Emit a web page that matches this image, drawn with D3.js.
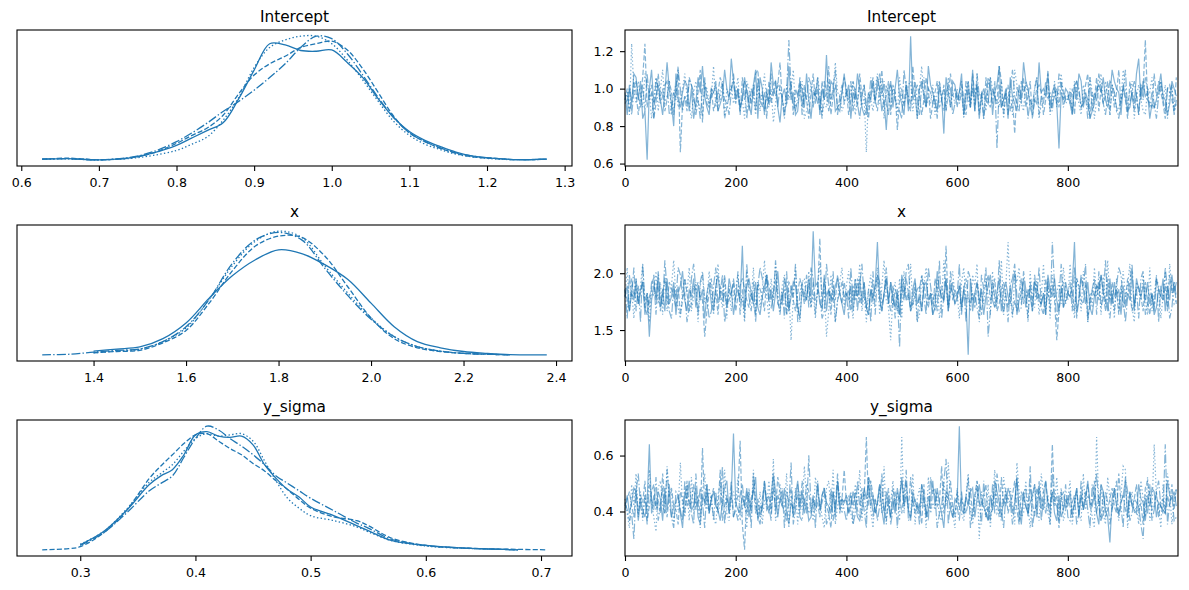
<!DOCTYPE html>
<html><head><meta charset="utf-8">
<script src="https://cdn.jsdelivr.net/npm/d3@7/dist/d3.min.js"></script>
<style>
body{margin:0;background:#fff}
text{font-family:"DejaVu Sans",sans-serif;fill:#000}
</style></head>
<body><svg id="chart" width="1189" height="590"></svg>
<script>
// ---------------- DATA ----------------
const paramNames = ["Intercept", "x", "y_sigma"];

// KDE grids (parameter values) and per-chain density estimates
// chain order: 0 solid, 1 dashed, 2 dotted, 3 dash-dot
const kdeGridIntercept = [0.627,0.66,0.70,0.74,0.77,0.80,0.82,0.84,0.86,0.88,0.90,0.92,0.94,0.96,0.98,1.00,1.02,1.04,1.06,1.08,1.10,1.12,1.14,1.16,1.18,1.21,1.24,1.277];
const kdeIntercept = [
  [0.05,0.07,0.025,0.1,0.3,0.6,0.9,1.2,1.5,2.45,3.6,4.65,4.6,4.38,4.35,4.4,3.9,3.3,2.45,1.7,1.15,0.8,0.55,0.33,0.18,0.08,0.03,0.05],
  [0.05,0.09,0.025,0.1,0.3,0.68,1.0,1.3,1.8,2.65,3.4,3.85,4.15,4.5,4.65,4.75,4.4,3.65,2.7,1.75,1.1,0.75,0.48,0.28,0.15,0.08,0.03,0.05],
  [0.05,0.06,0.025,0.08,0.2,0.4,0.65,0.95,1.6,2.5,3.7,4.5,4.8,4.95,4.95,4.65,4.0,3.2,2.35,1.55,1.0,0.65,0.43,0.25,0.15,0.06,0.03,0.05],
  [0.05,0.07,0.025,0.12,0.35,0.75,1.1,1.5,1.95,2.35,2.8,3.3,3.85,4.5,4.95,4.85,4.25,3.4,2.5,1.7,1.1,0.75,0.5,0.3,0.18,0.08,0.03,0.05]
];
const kdeGridX = [1.289,1.35,1.40,1.45,1.50,1.55,1.60,1.65,1.70,1.75,1.80,1.85,1.90,1.95,2.00,2.05,2.10,2.15,2.20,2.25,2.30,2.38];
const kdeX = [
  [null,null,0.1,0.15,0.2,0.4,0.78,1.38,1.92,2.31,2.55,2.46,2.19,1.83,1.26,0.69,0.33,0.18,0.09,0.045,0.015,0.01],
  [null,null,0.06,0.09,0.12,0.3,0.6,1.26,2.04,2.64,2.88,2.85,2.4,1.65,0.9,0.4,0.18,0.09,0.045,0.024,0.01,null],
  [null,null,0.06,0.1,0.15,0.33,0.66,1.35,2.16,2.76,3.0,2.85,2.16,1.5,0.9,0.45,0.21,0.1,0.045,0.024,0.01,null],
  [0.01,0.025,0.075,0.12,0.15,0.33,0.69,1.35,2.22,2.79,2.97,2.79,2.1,1.44,0.87,0.45,0.21,0.1,0.045,0.024,0.01,null]
];
const kdeGridSigma = [0.267,0.29,0.30,0.32,0.34,0.36,0.37,0.38,0.39,0.40,0.41,0.42,0.43,0.44,0.45,0.46,0.47,0.48,0.49,0.50,0.52,0.54,0.55,0.57,0.60,0.63,0.66,0.68,0.705];
const kdeSigma = [
  [null,null,0.32,1.05,2.24,3.71,4.2,4.55,5.39,6.51,6.69,6.44,6.37,6.44,5.95,4.83,4.06,3.43,3.01,2.45,1.96,1.4,1.12,0.56,0.28,0.14,0.07,0.035,null],
  [0.035,0.1,0.21,0.98,2.24,4.06,4.76,5.39,6.02,6.51,6.58,6.16,5.74,5.39,4.9,4.48,3.92,3.43,2.87,2.38,1.89,1.68,1.4,0.7,0.28,0.14,0.08,0.06,0.035],
  [null,null,0.35,1.05,2.31,3.85,4.34,4.83,5.6,6.3,6.58,6.44,6.51,6.58,6.16,5.04,3.92,2.94,2.38,1.96,1.68,1.33,1.05,0.56,0.25,0.13,0.07,0.035,null],
  [null,null,0.28,0.98,2.1,3.36,3.78,4.2,5.25,6.3,7.0,6.79,6.3,5.88,5.39,4.83,4.2,3.78,3.36,2.94,2.24,1.54,1.26,0.63,0.28,0.14,0.07,0.035,null]
];

// Trace samples (every 4th draw), one char per sample: value = lo + parseInt(char,36)*step
const traceThin = 4;
const traceCodeIntercept = { lo: 0.60, step: 0.02 };
const traceCodeX = { lo: 1.25, step: 0.032 };
const traceCodeSigma = { lo: 0.25, step: 0.013 };
const traceStrIntercept = [
  "jdlgonhmce1kpgilhdjrkgaohfjmlekcgnjqifdkjlegipkhsm"+"hkeinjgdlpcnkejgrlmfbikgqhjdelkfohcjindkhtgmlefejo"+"ilcjhokfdejhmgnkeh9jmfkpigdleyhjckmifqljgeki8njfml"+"hjodimfpelcikhgndjlqfhkcnigelhrmkfdhgrjkiofjlg4jhk"+"jgdlhomfjhcegkljnhfipmkjdliefjgoshmijcgfhkoihdgmki",
  "hkegmjdinwfjlcgoikehmjdkq3gienlhfjpbmigkehjnlcfikm"+"gjdnhlekiophfjcmgkilrhegjmdkinflhcjogkemhjqdilfgjn"+"kdhmjfoilgcjnhekpgimdlj9hkfmgeqjlidhnkcgjmfhlejoik"+"fjmhdkgoilejcnhfkigqmdjleh8kjgnfimchkljdhpegikfmjh"+"igkdmjfhlocjhnekgimdlfjpgkhcmiejdlkxhgfoimjgcklhen",
  "hjdwkgmifoljchnekpgimdjlfhkoigcjmhedlkgiqfjhmdkilg"+"jnfhcmkgidlejohfkbgmjidlhkpfgjmcehlkinjdgfmhkrjieg"+"kgjmdhlfi3jhekogmclifkjdnhgilmejckqhfigldjmhkenfjg"+"ihlcjmfkgodhjelnkigfmcjhkdpligemjhfkncgijldhmfkoig"+"hkemjgdlifnjchkogmidljefhpkgjmcilhedkjnfgimhlcjkeg",
  "ghkdjmifleohjcnkgilmdfjhpkeigmljdhckngfijmeklhgdjo"+"ikfhmcjglenhjdkgoimflhcjxkgeimdjhnlfkgicmjehkpdilg"+"jhmekgcildfnjhkoimgdljhfecpkigjmhdlnfkjgicmhejlkdg"+"kgjdmhfleoijchnkgm4lfhjdkpigemjlchfkndigmhjekgolfi"+"hjdlmkfgicnejhokgdimljfchkpegjmidlhnkfjgcimhekjldh"
];
const traceStrX = [
  "hkdigmfjlci6gkhnejdmfhlcikogdjhmekgjbilfdknhgiemjc"+"hjgvdkmiflechkngjdiogfmjdhlkebjigmhzklfendjhgkmifc"+"igkdjhmflecjgkwhdimflhejcnkgidjmfhdklgiceojhgmdkif"+"hkejg1mdilfjchkngeimdjlhfkocgimejhdlkgficnjhmgdkel"+"ihkwdgmjflechkjnigdmflhjckeigodmjhkglficejhmdkgnil",
  "jgdmhkfilechjngkdimfljhekcgmidfkjlhg6dimejckhnfgil"+"dhkmjgeifcljhdnkgimfehjclkgdimjfhkelgixdmhjckgnifl"+"hjdkgmfilecjhkngdimflejhckgmidfhjkdlgeicmjhkgvdilf"+"gkdjmhfielhcjkngimdfjlhekcgdimfjhkdlgiecmhjkg5dilf"+"ihjdmkgflcejhkgnidmflhjckegmidfjkhdlgciemjhgkdnilf",
  "hpdjbmgkqeiajhoflcndgkrhebjmipdhlaknfgoicjqhembkdi"+"jnfhaokgpdlejrhbmgqidkncj5hpfalmgoeibkqhj6dnhaglpe"+"kogbmhqdiajnfhpckrge5ildmbohgqejacnkpfhidmbgrjeloh"+"iblpghdnkqajfmhcoegirdkwhbnlpfjiaogemchqdkbnhilfpj"+"gqhbmjdokaiephlcnfrgjbmdiohkqealjgnhcpdimkbhoeqjfg",
  "jbnhpdkaqgielmcohfrjdbkgpnhiaemqjcloghbdkpfinaejhm"+"gocjbqhdlakpminfehrgcjbodkhqailgnepmcjhbdqkfoagilh"+"ibpgmdkqhejaocnlfhpgdkbi3mhoqeglajnhcpkfidrbhmeogj"+"hqckaomgiebnjp6dlhfrgciakmqhdeojblgnhpficmdwkahqeg"+"ildpbhnkqagjmcoehrfbidkpngahlqejbmocfihdnakgpjbelh"
];
const traceStrSigma = [
  "dgbeih9fcaeubgdhf9icjadegb7hfkcdia8gejbfhdc9eikbgx"+"ecbgdiafhl9dcjebgmhafdib8ecgkdhbe9afdjcgiedbhakcfe"+"gbdhea9cifkdgbejc8hdafbieldgc9hedbjgacfkdieb7hgcaf"+"ezcbgdhiafjedb9gckheafdigbelc8hdbegjaifckedhb9gacf"+"dhbeiagcfkedgb8jhca3fidbegkahdcbjfe9gdihaedcbkgfhd",
  "cfhdaibgek9dhjcfbmeagidc8hfbkdejcgatdhbfiecn9dgbha"+"dgv81hecjbfadkegbiclhdc9fiaegbkdjhbfceagidb7hckefn"+"ebgdhcaifwdkgbejhc9faidegbhkcldfbe8jagchideobgfkda"+"hcfdbeiagkedgj9bchfaldibegkc8hfdbjeaigchkdbueg7fhc"+"gdaeibhcfjdekbg9hacfidbmegcahdfjbe8ikgcdhaefbgdjci",
  "fb7jdmah9gcnea6ikdbogh8ecpdaj9lbfd7hmciea8gkdnb9fh"+"dl9cg7ibneah8fdkcq9bjedm7gai8hcofbd9lgea7ikcn8dhbf"+"egb8jdn9halc7fdibo8gekdh9wbjcam8fidg7lbecha9kdpfb7"+"idb9gmc8ek4hdaj7fnbc9lgeid8phabkd7fjc9mgeb8hdlai9c"+"fk8dhb9mcgea7wdjb8lfcid9gon7ehbd8kfal9cugd7jbmh8ei",
  "ec9b4hmdag8jfcl9dibnea7hgc9kdfb8mdie7jcg9hbeo8fdka"+"c9gjdbh7mea8fkcd9lbgei7hdp8cja9fbrdg7kceh8ai9dmbfc"+"9eh8bkdgc7ljaf9dmbei8ch7gkdn9afbe8jdc9lhg7bdkq8eac"+"d9hbfl7cgie8kad9jbmhc7gfe8dl9bhiao7cdk9fbg8med9hcj"+"a9eg8bkdhc7jfmd9bhe8cgkad7lh9bfed84gbj9chkdbu8eg9a"
];
function decodeTrace(str, code) {
  return Array.from(str, ch => +(code.lo + parseInt(ch, 36) * code.step).toFixed(4));
}
const traceIntercept = traceStrIntercept.map(s => decodeTrace(s, traceCodeIntercept));
const traceX = traceStrX.map(s => decodeTrace(s, traceCodeX));
const traceSigma = traceStrSigma.map(s => decodeTrace(s, traceCodeSigma));

// Tick values
const kdeTicksIntercept = [0.6,0.7,0.8,0.9,1.0,1.1,1.2,1.3];
const kdeTicksX = [1.4,1.6,1.8,2.0,2.2,2.4];
const kdeTicksSigma = [0.3,0.4,0.5,0.6,0.7];
const traceYTicksIntercept = [0.6,0.8,1.0,1.2];
const traceYTicksX = [1.5,2.0];
const traceYTicksSigma = [0.4,0.6];
const traceXTicks = [0,200,400,600,800];
const drawCount = 1000;

// ---------------- DRAWING ----------------
const color = "#1f77b4";
const dashes = [null, "5.1,2.2", "1.4,2.3", "8.8,2.2,1.4,2.2"];
const svg = d3.select("#chart");
const rows = [30, 225, 420];
const panelH = 136;
const leftX = [17, 572], rightX = [625, 1178];
const tickFont = 12.6, titleFont = 15.3;

function padded(ext) { const d = (ext[1] - ext[0]) * 0.05; return [ext[0] - d, ext[1] + d]; }

function frame(g, x0, x1, top, title) {
  g.append("rect").attr("x", x0).attr("y", top).attr("width", x1 - x0).attr("height", panelH)
    .attr("fill", "none").attr("stroke", "#000").attr("stroke-width", 1.1);
  g.append("text").attr("x", (x0 + x1) / 2).attr("y", top - 8).attr("text-anchor", "middle")
    .attr("font-size", titleFont).text(title);
}
function styleAxis(a) {
  a.select(".domain").remove();
  a.selectAll("line").attr("stroke", "#000").attr("stroke-width", 1.1);
  a.selectAll("text").attr("font-size", tickFont).attr("font-family", "DejaVu Sans");
}

function kdePanel(row, name, grid, chains, ticks) {
  const top = rows[row], bottom = top + panelH;
  const g = svg.append("g");
  const xs = d3.scaleLinear().domain(padded(d3.extent(grid))).range(leftX);
  const vals = chains.flat().filter(v => v != null);
  const ys = d3.scaleLinear().domain(padded(d3.extent(vals))).range([bottom, top]);
  const line = d3.line().defined(d => d[1] != null).x(d => xs(d[0])).y(d => ys(d[1])).curve(d3.curveCatmullRom.alpha(0.5));
  chains.forEach((c, i) => {
    g.append("path").attr("d", line(grid.map((x, j) => [x, c[j]])))
      .attr("fill", "none").attr("stroke", color).attr("stroke-width", 1.3)
      .attr("stroke-dasharray", dashes[i]);
  });
  const ax = g.append("g").attr("transform", `translate(0,${bottom})`)
    .call(d3.axisBottom(xs).tickValues(ticks).tickFormat(d3.format(".1f")).tickSize(5).tickPadding(7.5));
  styleAxis(ax);
  frame(g, leftX[0], leftX[1], top, name);
}

function tracePanel(row, name, chains, yTicks) {
  const top = rows[row], bottom = top + panelH;
  const g = svg.append("g");
  const xs = d3.scaleLinear().domain([0, drawCount - 1]).range(rightX);
  const ys = d3.scaleLinear().domain(padded(d3.extent(chains.flat()))).range([bottom, top]);
  const line = d3.line().x((d, i) => xs(i * traceThin)).y(d => ys(d));
  chains.forEach((c, i) => {
    g.append("path").attr("d", line(c)).attr("fill", "none").attr("stroke", color)
      .attr("stroke-opacity", 0.55).attr("stroke-width", 1.2).attr("stroke-dasharray", dashes[i]);
  });
  const ax = g.append("g").attr("transform", `translate(0,${bottom})`)
    .call(d3.axisBottom(xs).tickValues(traceXTicks).tickFormat(d3.format("d")).tickSize(5).tickPadding(7.5));
  styleAxis(ax);
  const ay = g.append("g").attr("transform", `translate(${rightX[0]},0)`)
    .call(d3.axisLeft(ys).tickValues(yTicks).tickFormat(d3.format(".1f")).tickSize(5).tickPadding(6.5));
  styleAxis(ay);
  frame(g, rightX[0], rightX[1], top, name);
}

kdePanel(0, paramNames[0], kdeGridIntercept, kdeIntercept, kdeTicksIntercept);
kdePanel(1, paramNames[1], kdeGridX, kdeX, kdeTicksX);
kdePanel(2, paramNames[2], kdeGridSigma, kdeSigma, kdeTicksSigma);
tracePanel(0, paramNames[0], traceIntercept, traceYTicksIntercept);
tracePanel(1, paramNames[1], traceX, traceYTicksX);
tracePanel(2, paramNames[2], traceSigma, traceYTicksSigma);
</script>
</body></html>
